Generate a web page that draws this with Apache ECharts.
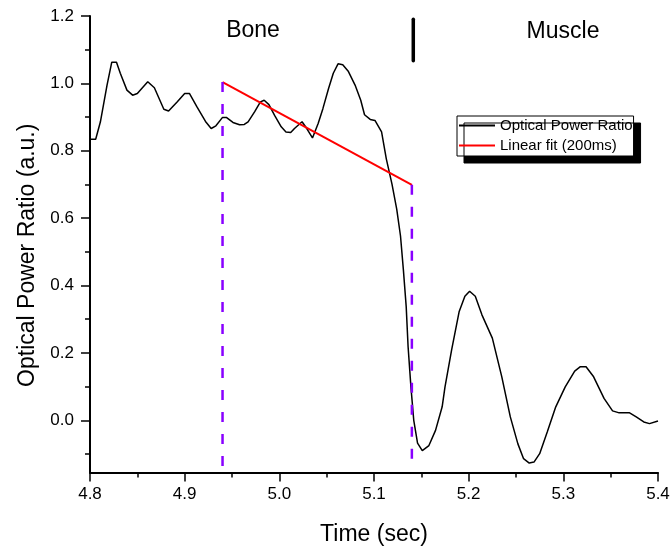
<!DOCTYPE html>
<html>
<head>
<meta charset="utf-8">
<script src="https://cdn.jsdelivr.net/npm/echarts@6/dist/echarts.min.js"></script>
<style>
html, body { margin: 0; padding: 0; background: #fff; }
#chart { width: 672px; height: 548px; }
</style>
</head>
<body>
<div id="chart"></div>
<script>
// measured trace (time in s, ratio in a.u.)
var time = [4.800, 4.806, 4.811, 4.818, 4.823, 4.828, 4.832, 4.839, 4.845, 4.850,
	4.861, 4.868, 4.878, 4.883, 4.892, 4.900, 4.905, 4.913, 4.922, 4.928,
	4.933, 4.940, 4.944, 4.951, 4.958, 4.963, 4.967, 4.974, 4.980, 4.984,
	4.989, 4.995, 5.002, 5.007, 5.012, 5.016, 5.024, 5.029, 5.035, 5.041,
	5.046, 5.052, 5.057, 5.062, 5.067, 5.073, 5.080, 5.086, 5.090, 5.096,
	5.101, 5.108, 5.113, 5.119, 5.124, 5.128, 5.131, 5.134, 5.136, 5.139,
	5.142, 5.146, 5.151, 5.158, 5.165, 5.172, 5.175, 5.182, 5.190, 5.196,
	5.201, 5.207, 5.214, 5.225, 5.235, 5.244, 5.252, 5.258, 5.264, 5.269,
	5.275, 5.283, 5.292, 5.302, 5.312, 5.318, 5.324, 5.332, 5.343, 5.352,
	5.359, 5.370, 5.377, 5.385, 5.391, 5.400];
var ratio = [0.834, 0.834, 0.886, 0.995, 1.063, 1.063, 1.030, 0.980, 0.965, 0.970,
	1.005, 0.987, 0.923, 0.918, 0.945, 0.970, 0.970, 0.930, 0.887, 0.866,
	0.874, 0.899, 0.899, 0.884, 0.877, 0.878, 0.886, 0.916, 0.945, 0.950,
	0.937, 0.905, 0.871, 0.856, 0.854, 0.866, 0.886, 0.866, 0.838, 0.881,
	0.925, 0.985, 1.030, 1.058, 1.055, 1.035, 0.995, 0.950, 0.907, 0.893,
	0.890, 0.856, 0.776, 0.701, 0.627, 0.547, 0.448, 0.338, 0.219, 0.099,
	0.000, -0.068, -0.090, -0.075, -0.030, 0.040, 0.099, 0.209, 0.323, 0.368,
	0.383, 0.368, 0.313, 0.244, 0.129, 0.010, -0.070, -0.114, -0.127, -0.124,
	-0.099, -0.035, 0.040, 0.099, 0.146, 0.159, 0.159, 0.129, 0.065, 0.028,
	0.022, 0.022, 0.010, -0.005, -0.010, -0.002];

// linear fit over the 200 ms bone window
var fitTime = [4.94, 5.14];
var fitValue = [1.004, 0.699];

// dashed window markers and the bone/muscle divider
var windowStartTime = [4.94, 4.94];
var windowStartValue = [1.004, -0.136];
var windowEndTime = [5.14, 5.14];
var windowEndValue = [0.699, -0.136];
var dividerTime = [5.1415, 5.1415];
var dividerValue = [1.190, 1.067];

var yTicks = [0, 0.2, 0.4, 0.6, 0.8, 1.0, 1.2];
var yMinorTicks = [-0.1, 0.1, 0.3, 0.5, 0.7, 0.9, 1.1];

var zip = function(xs, ys){
	var out = [];
	for(var i = 0; i < xs.length; i++){
		out.push([xs[i], ys[i]]);
	}
	return out;
};

var FONT = 'Liberation Sans, Arial, sans-serif';
var Y_MIN = -0.155, Y_MAX = 1.2;

var chart = echarts.init(document.getElementById('chart'), null, {renderer: 'canvas'});

var option = {
	animation: false,
	backgroundColor: '#fff',
	textStyle: { fontFamily: FONT },
	grid: {
		left: 90,
		right: 14,
		top: 16,
		bottom: 75.5,
		containLabel: false,
		outerBoundsMode: 'none'
	},
	legend: {
		data: ['Optical Power Ratio', 'Linear fit (200ms)'],
		orient: 'vertical',
		left: 457,
		top: 116,
		padding: [2, 1, 3, 1],
		itemGap: 5,
		itemWidth: 36,
		itemHeight: 14,
		selectedMode: false,
		backgroundColor: '#fff',
		borderColor: '#000',
		borderWidth: 1,
		borderRadius: 0,
		shadowColor: '#000',
		shadowBlur: 0,
		shadowOffsetX: 7,
		shadowOffsetY: 7,
		// hide the default circle on line legend icons
		itemStyle: { opacity: 0, borderWidth: 0 },
		textStyle: { fontSize: 15, color: '#000', fontFamily: FONT }
	},
	graphic: [
		{ type: 'text', x: 253, y: 31, style: { text: 'Bone', font: '23px ' + FONT, fill: '#000', textAlign: 'center', textVerticalAlign: 'middle' } },
		{ type: 'text', x: 563, y: 32, style: { text: 'Muscle', font: '23px ' + FONT, fill: '#000', textAlign: 'center', textVerticalAlign: 'middle' } }
	],
	xAxis: {
		type: 'value',
		min: 4.8,
		max: 5.4,
		interval: 0.1,
		name: 'Time (sec)',
		nameLocation: 'middle',
		nameGap: 51,
		nameTextStyle: { fontSize: 23, color: '#000', fontFamily: FONT },
		axisLine: { show: true, onZero: false, lineStyle: { color: '#000', width: 2 } },
		axisTick: { show: true, length: 9, lineStyle: { color: '#000', width: 1.5 } },
		minorTick: { show: true, splitNumber: 2, length: 5, lineStyle: { color: '#000', width: 1.5 } },
		axisLabel: {
			margin: 13,
			fontSize: 17,
			color: '#000',
			fontFamily: FONT,
			formatter: function(v){ return v.toFixed(1); }
		},
		splitLine: { show: false }
	},
	yAxis: [
		{
			type: 'value',
			min: Y_MIN,
			max: Y_MAX,
			position: 'left',
			name: 'Optical Power Ratio (a.u.)',
			nameLocation: 'middle',
			nameGap: 51,
			nameTextStyle: { fontSize: 23, color: '#000', fontFamily: FONT, padding: [0, 22, 0, 0] },
			axisLine: { show: true, onZero: false, lineStyle: { color: '#000', width: 2 } },
			axisTick: { show: true, length: 9, customValues: yTicks, lineStyle: { color: '#000', width: 1.5 } },
			axisLabel: {
				margin: 16,
				fontSize: 17,
				color: '#000',
				fontFamily: FONT,
				customValues: yTicks,
				formatter: function(v){ return v.toFixed(1); }
			},
			splitLine: { show: false }
		},
		{
			type: 'value',
			min: Y_MIN,
			max: Y_MAX,
			position: 'left',
			offset: 0,
			axisLine: { show: false },
			axisTick: { show: true, length: 5, customValues: yMinorTicks, lineStyle: { color: '#000', width: 1.5 } },
			axisLabel: { show: false, customValues: yMinorTicks },
			splitLine: { show: false }
		}
	],
	series: [
		{
			name: 'Optical Power Ratio',
			type: 'line',
			data: zip(time, ratio),
			symbol: 'none',
			color: '#000',
			lineStyle: { color: '#000', width: 1.5 },
			z: 3
		},
		{
			name: 'Linear fit (200ms)',
			type: 'line',
			data: zip(fitTime, fitValue),
			symbol: 'none',
			color: '#ff0000',
			lineStyle: { color: '#ff0000', width: 2 },
			z: 4
		},
		{
			name: 'window start',
			type: 'line',
			data: zip(windowStartTime, windowStartValue),
			symbol: 'none',
			lineStyle: { color: '#8800ff', width: 2.5, type: [10, 12], cap: 'butt' },
			z: 5
		},
		{
			name: 'window end',
			type: 'line',
			data: zip(windowEndTime, windowEndValue),
			symbol: 'none',
			lineStyle: { color: '#8800ff', width: 2.5, type: [10, 12], cap: 'butt' },
			z: 5
		},
		{
			name: 'divider',
			type: 'line',
			data: zip(dividerTime, dividerValue),
			symbol: 'none',
			lineStyle: { color: '#000', width: 3.5, cap: 'round' },
			z: 5
		}
	]
};

chart.setOption(option);
</script>
</body>
</html>
